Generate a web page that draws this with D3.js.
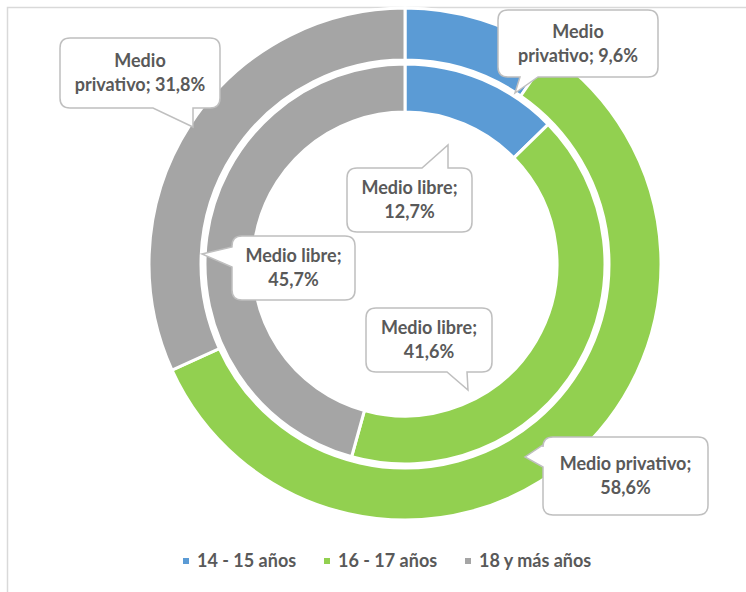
<!DOCTYPE html>
<html><head><meta charset="utf-8">
<script src="https://cdn.jsdelivr.net/npm/d3@7"></script>
<style>
html,body{margin:0;padding:0;background:#fff;}
svg{display:block;font-family:Lato,"Open Sans",sans-serif;}
</style></head>
<body><svg id="c" width="746" height="592"></svg>
<script>
const categories = ["14 - 15 años", "16 - 17 años", "18 y más años"];
const colors = ["#5B9BD5", "#92D050", "#A5A5A5"];
const outerName = "Medio privativo";
const outerValues = [9.6, 58.6, 31.8];
const innerName = "Medio libre";
const innerValues = [12.7, 41.6, 45.7];

const svg = d3.select("#c");
svg.append("path").attr("d","M7.5,592 L7.5,7.5 L746,7.5").attr("fill","none").attr("stroke","#d9d9d9").attr("stroke-width",1.5);

const cx = 405, cy = 264;
const R = [256, 204, 200, 152];
const g = svg.append("g").attr("transform",`translate(${cx},${cy})`);
const pie = d3.pie().sort(null).value(d=>d);
const outerArc = d3.arc().innerRadius(R[1]).outerRadius(R[0]);
const innerArc = d3.arc().innerRadius(R[3]).outerRadius(R[2]);
g.selectAll("path.o").data(pie(outerValues)).join("path").attr("class","o")
  .attr("d",outerArc).attr("fill",(d,i)=>colors[i]).attr("stroke","#fff").attr("stroke-width",3);
g.selectAll("path.i").data(pie(innerValues)).join("path").attr("class","i")
  .attr("d",innerArc).attr("fill",(d,i)=>colors[i]).attr("stroke","#fff").attr("stroke-width",3);

const fmt = v => v.toFixed(1).replace(".", ",") + "%";
const callouts = [
  {lines:["Medio", "privativo; " + fmt(outerValues[2])], box:[60,38,160,70], tail:{side:"bottom",a:153,b:193,tip:[193,127]}},
  {lines:["Medio", "privativo; " + fmt(outerValues[0])], box:[498,10,160,67], tail:{side:"bottom",a:520,b:538,tip:[515,93]}},
  {lines:[innerName + ";", fmt(innerValues[0])], box:[347,168,125,64], tail:{side:"top",a:422,b:448,tip:[448,145]}},
  {lines:[innerName + ";", fmt(innerValues[2])], box:[232,236,123,64], tail:{side:"left",a:247,b:267,tip:[202,254]}},
  {lines:[innerName + ";", fmt(innerValues[1])], box:[366,308,126,64], tail:{side:"bottom",a:447,b:467,tip:[468,390]}},
  {lines:[outerName + ";", fmt(outerValues[1])], box:[543,437,165,78], tail:{side:"left",a:445,b:467,tip:[525,457]}}
];

function calloutPath(c){
  const [x,y,w,h] = c.box, r = 10, t = c.tail;
  const x2 = x+w, y2 = y+h;
  let p = `M${x+r},${y}`;
  if (t.side==="top") p += ` L${t.a},${y} L${t.tip[0]},${t.tip[1]} L${t.b},${y}`;
  p += ` L${x2-r},${y} Q${x2},${y} ${x2},${y+r}`;
  p += ` L${x2},${y2-r} Q${x2},${y2} ${x2-r},${y2}`;
  if (t.side==="bottom") p += ` L${t.b},${y2} L${t.tip[0]},${t.tip[1]} L${t.a},${y2}`;
  p += ` L${x+r},${y2} Q${x},${y2} ${x},${y2-r}`;
  if (t.side==="left") p += ` L${x},${t.b} L${t.tip[0]},${t.tip[1]} L${x},${t.a}`;
  p += ` L${x},${y+r} Q${x},${y} ${x+r},${y} Z`;
  return p;
}
callouts.forEach(c=>{
  svg.append("path").attr("d",calloutPath(c)).attr("fill","#fff").attr("stroke","#bfbfbf").attr("stroke-width",1.5);
  const [x,y,w,h] = c.box;
  const lh = 24;
  const y0 = y + h/2 - lh/2 + 6;
  c.lines.forEach((s,k)=>{
    svg.append("text").attr("x",x+w/2).attr("y",y0+k*lh).attr("text-anchor","middle")
      .attr("font-size",18).attr("font-weight","bold").attr("fill","#595959").text(s);
  });
});

const legX = [183, 324, 465];
categories.forEach((c,i)=>{
  svg.append("rect").attr("x",legX[i]).attr("y",558).attr("width",6).attr("height",6).attr("fill",colors[i]);
  svg.append("text").attr("x",legX[i]+14).attr("y",567).attr("font-size",18).attr("font-weight","bold")
    .attr("fill","#595959").text(c);
});
</script></body></html>
